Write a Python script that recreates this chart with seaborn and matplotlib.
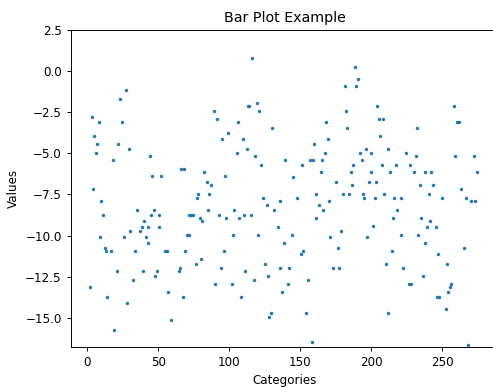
import matplotlib
matplotlib.use("Agg")
import matplotlib.pyplot as plt
import seaborn as sns
import pandas as pd
from matplotlib.ticker import MultipleLocator

x_vals = [1.9, 3.1, 4.2, 5.0, 6.1, 6.6, 8.0, 8.9, 9.7, 11.1, 12.2, 12.9, 13.9, 16.9, 18.3, 18.8,
          21.1, 21.8, 22.8, 24.2, 26.1, 27.3, 27.7, 29.1, 30.3, 32.2, 33.8, 35.0, 36.9, 38.3, 39.4,
          39.9, 41.1, 42.5, 43.0, 44.2, 44.9, 45.6,
          47.2, 50.3, 50.7, 52.1, 49.1, 47.9, 54.7, 56.1, 57.0, 59.2, 64.4, 65.3, 65.8, 68.1, 67.2,
          69.0, 70.2, 71.4, 71.8, 73.2, 74.6, 76.3, 77.5, 78.0, 79.2, 80.3, 81.0, 82.2, 84.1, 85.2,
          85.9, 87.1, 89.0, 90.1, 91.1, 93.0, 94.2, 94.9, 96.3, 97.2, 97.9, 99.1, 102.1, 102.8, 103.3,
          105.2, 106.3, 107.0, 108.2, 109.4, 110.1, 111.3, 112.5, 113.0, 114.1, 115.5, 116.0, 117.4,
          118.1, 119.3, 120.4, 121.1, 122.3, 123.9, 125.1, 126.3, 127.0, 128.2, 129.2, 130.1, 131.3,
          134.3, 135.5, 135.9, 137.3, 138.5, 139.2, 141.5, 142.0, 144.4, 145.1, 147.7, 150.3, 151.2,
          152.1, 154.2, 155.2, 157.0, 158.7, 158.2, 159.9, 160.8, 161.0,
          163.2, 164.4, 165.1, 166.2, 167.2, 168.1, 169.3, 170.4, 171.1, 173.2, 175.1, 176.6, 177.0,
          178.5, 179.9, 181.3, 182.4, 183.1, 184.3, 185.7, 186.2, 187.3, 188.5, 189.2, 190.4, 192.3,
          193.5, 193.9, 195.1, 196.5, 197.0, 198.4, 199.6, 200.0, 201.2, 202.6, 203.1, 204.2, 205.4,
          206.1, 207.3, 208.5, 209.2, 210.1, 211.5, 212.0, 213.4, 214.4, 215.1, 216.2, 217.4, 218.2,
          220.7, 221.1, 222.3, 224.2, 226.3, 227.7, 227.3, 230.3, 231.5, 232.0, 233.1, 234.5, 235.2,
          236.4, 237.6, 238.0, 239.2, 240.4, 241.1, 242.3, 243.5, 245.4, 246.5, 247.9, 247.0, 249.6,
          252.4, 253.1, 254.2, 255.4, 256.1, 258.5, 259.2, 260.4, 261.5, 263.4, 265.1, 266.5, 268.1,
          270.0, 272.5, 273.0, 274.2]

y_vals = [-13.15, -2.77, -7.15, -3.95, -4.96, -4.43, -3.12, -10.11, -7.92, -8.75, -10.74, -10.94,
          -13.72, -10.94, -5.43, -15.75, -12.16, -4.43, -1.72, -3.12, -10.11, -1.15, -14.13, -4.72,
          -9.75, -12.73, -10.94, -8.45, -9.75, -9.46, -12.16, -9.14, -10.11, -10.44, -9.46, -5.16,
          -8.75, -6.38,
          -8.45, -8.75, -9.46, -6.38, -12.16, -12.44, -10.94, -10.94, -13.46, -15.14, -12.16, -11.96,
          -5.94, -5.94, -13.72, -10.94, -9.97, -9.97, -8.75, -8.75, -8.75, -11.75, -7.72, -7.46,
          -8.94, -11.43, -9.14, -6.16, -6.73, -8.45, -7.46, -6.93, -2.43, -12.97, -2.91, -8.75,
          -11.96, -4.11, -10.94, -6.38, -8.94, -3.75, -12.97, -9.97, -8.45,
          -4.96, -3.12, -8.94, -13.72, -4.11, -8.75, -12.16, -4.72, -2.12, -2.12, -8.75, 0.80,
          -12.73, -5.16, -1.92, -9.97, -2.43, -5.73, -7.72, -11.75, -8.13, -12.44, -14.94, -14.73,
          -3.44, -8.45, -9.46, -11.96, -7.92, -13.46, -10.44, -5.43, -12.97, -11.96, -9.97, -6.42,
          -7.72, -11.13, -5.73, -10.96, -14.73, -12.73, -5.43, -5.43, -16.46, -4.43, -7.46, -8.94,
          -8.13, -6.16, -5.43, -8.45, -4.96, -3.12, -4.11, -7.92, -10.11, -11.96, -6.73, -10.74,
          -11.96, -9.75, -7.46, -0.93, -2.43, -3.44, -7.46, -6.16, -6.93, -5.73, 0.27, -0.93, -0.46,
          -4.96, -5.43, -7.46, -7.72, -4.72, -10.11, -6.73, -4.96, -6.16, -9.44, -7.72, -6.73, -2.12,
          -2.91, -3.95, -5.73, -2.91, -7.46, -11.75, -4.72, -14.73, -6.16, -10.94, -8.94, -7.72,
          -5.73, -8.45,
          -7.72, -9.97, -11.96, -4.96, -12.97, -12.97, -5.73, -6.16, -5.16, -3.44, -9.97, -6.93,
          -8.94, -12.44, -10.44, -6.16, -9.46, -7.46, -9.14, -6.16, -6.93, -9.46, -13.72, -13.72,
          -11.13, -7.72, -14.45, -11.75, -13.46, -13.15, -12.95, -2.12, -5.16, -3.12, -3.12, -7.15,
          -10.74, -7.72, -16.66, -7.92, -5.16, -7.92, -6.16]

df = pd.DataFrame({"Categories": x_vals, "Values": y_vals})

f = 0.857
plt.rcParams.update({
    "font.size": 10 * f,
    "axes.linewidth": 0.8 * f,
    "xtick.major.size": 3.5 * f,
    "ytick.major.size": 3.5 * f,
    "xtick.major.width": 0.8 * f,
    "ytick.major.width": 0.8 * f,
    "font.family": ["DejaVu Sans"],
})

fig = plt.figure(figsize=(4.93, 3.87), dpi=100)
ax = fig.add_axes([70.7 / 493, 40.3 / 387, (498.7 - 70.7) / 493, 316.7 / 387])
sns.scatterplot(data=df, x="Categories", y="Values", ax=ax, color="#1f77b4", s=6, linewidth=0)

ax.set_xlim(-11.7, 289.7)
ax.set_ylim(-16.76, 2.5)
ax.xaxis.set_major_locator(MultipleLocator(50))
ax.yaxis.set_major_locator(MultipleLocator(2.5))
ax.set_title("Bar Plot Example", fontsize=12 * f)
ax.set_xlabel("Categories", fontsize=10 * f)
ax.set_ylabel("Values", fontsize=10 * f)

fig.savefig("out.png", dpi=100)
